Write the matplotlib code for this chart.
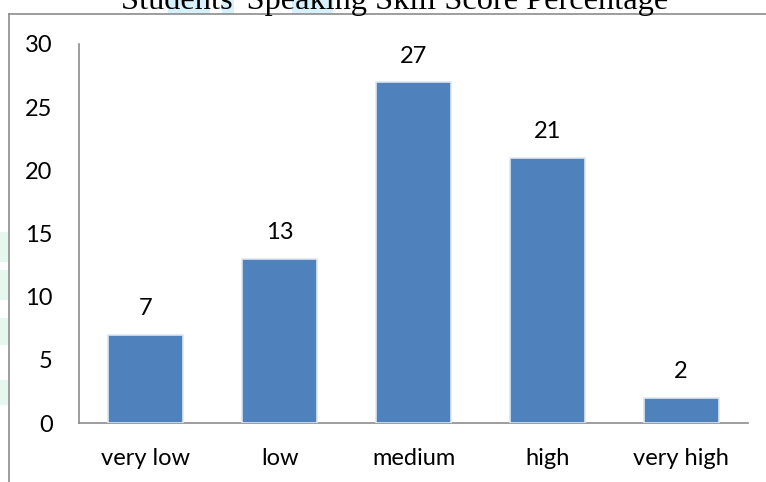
import matplotlib
matplotlib.use("Agg")
import matplotlib.pyplot as plt
from matplotlib.lines import Line2D
from matplotlib.patches import Rectangle

categories = ["very low", "low", "medium", "high", "very high"]
scores = [7, 13, 27, 21, 2]
yticks = [0, 5, 10, 15, 20, 25, 30]

bar_color = "#4F81BD"
label_font = ["Lato", "DejaVu Sans"]
fs = 17

fig = plt.figure(figsize=(7.66, 4.82), dpi=100)
ax = fig.add_axes([79 / 766, 59 / 482, 669 / 766, 379 / 482])

x = range(len(categories))
bars = ax.bar(x, scores, width=0.56, color=bar_color,
              edgecolor="#dfe6ee", linewidth=1.2, zorder=3)

# value labels above each bar
for b, v in zip(bars, scores):
    ax.text(b.get_x() + b.get_width() / 2, v + 2.05, str(v),
            ha="center", va="center", fontsize=fs, family=label_font)

ax.set_xlim(-0.5, len(categories) - 0.5)
ax.set_ylim(0, 30)
ax.set_yticks(yticks)
ax.set_yticklabels([str(t) for t in yticks], fontsize=fs, family=label_font)
ax.set_xticks(list(x))
ax.set_xticklabels(categories, fontsize=fs, family=label_font)
ax.tick_params(axis="both", length=0)
ax.tick_params(axis="y", pad=19)
ax.tick_params(axis="x", pad=18)

for s in ["top", "right"]:
    ax.spines[s].set_visible(False)
for s in ["left", "bottom"]:
    ax.spines[s].set_color("#8c8c8c")
    ax.spines[s].set_linewidth(1.2)

# outer chart border (only left and top edges show)
fx0 = 9 / 766
fy0 = (482 - 14) / 482
fig.add_artist(Line2D([fx0, fx0], [0, fy0], color="#8c8c8c", lw=1.2))
fig.add_artist(Line2D([fx0, 1], [fy0, fy0], color="#8c8c8c", lw=1.2))

# faint tinted patches behind the title and at the left edge
for px0, px1 in [(168, 210), (222, 234), (292, 333)]:
    fig.add_artist(Rectangle((px0 / 766, fy0), (px1 - px0) / 766, 1 - fy0,
                             color="#d6f1fc", zorder=0, lw=0))
for py0, py1 in [(232, 262), (270, 300), (318, 345), (380, 405)]:
    fig.add_artist(Rectangle((0, 1 - py1 / 482), 8 / 766, (py1 - py0) / 482,
                             color="#e4f8f0", zorder=0, lw=0))

fig.text(395 / 766, (482 - 9) / 482, "Students' Speaking Skill Score Percentage",
         ha="center", va="baseline", fontsize=23.3, family="Liberation Serif")

fig.savefig("out.png", dpi=100)
